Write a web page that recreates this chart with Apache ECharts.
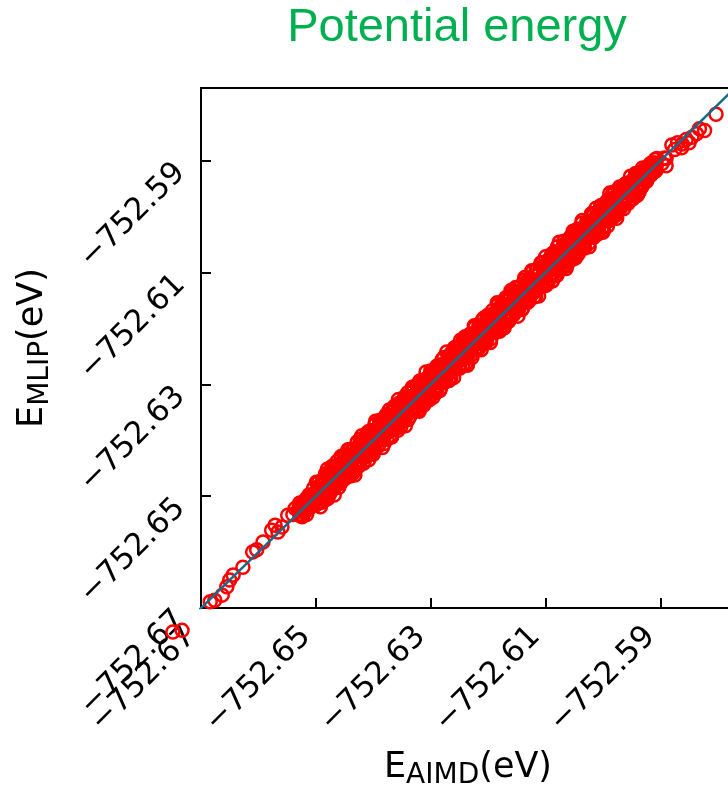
<!DOCTYPE html>
<html>
<head>
<meta charset="utf-8">
<script src="https://cdn.jsdelivr.net/npm/echarts@6/dist/echarts.min.js"></script>
<style>
  html, body { margin: 0; padding: 0; background: #fff; }
  #chart { width: 728px; height: 788px; }
</style>
</head>
<body>
<div id="chart"></div>
<script>
// tick positions shared by both axes
var tickValues = [-752.67, -752.65, -752.63, -752.61, -752.59];
var axisRange = [-752.67, -752.577];

// parity line y = x
var diagonal = [-752.68, -752.57];

// AIMD energies (x) and MLIP energies (y)
var eAimd = [
  -752.6530, -752.6528, -752.6526, -752.6524, -752.6522, -752.6520, -752.6518, -752.6516, -752.6514, -752.6512,
  -752.6510, -752.6508, -752.6506, -752.6504, -752.6502, -752.6500, -752.6498, -752.6496, -752.6494, -752.6492,
  -752.6490, -752.6488, -752.6486, -752.6484, -752.6482, -752.6480, -752.6478, -752.6476, -752.6474, -752.6472,
  -752.6470, -752.6468, -752.6466, -752.6464, -752.6462, -752.6460, -752.6458, -752.6456, -752.6454, -752.6452,
  -752.6450, -752.6448, -752.6446, -752.6444, -752.6442, -752.6440, -752.6438, -752.6436, -752.6434, -752.6432,
  -752.6430, -752.6428, -752.6426, -752.6424, -752.6422, -752.6420, -752.6418, -752.6416, -752.6414, -752.6412,
  -752.6410, -752.6408, -752.6406, -752.6404, -752.6402, -752.6400, -752.6398, -752.6396, -752.6394, -752.6392,
  -752.6390, -752.6388, -752.6386, -752.6384, -752.6382, -752.6380, -752.6378, -752.6376, -752.6374, -752.6372,
  -752.6370, -752.6368, -752.6366, -752.6364, -752.6362, -752.6360, -752.6358, -752.6356, -752.6354, -752.6352,
  -752.6350, -752.6348, -752.6346, -752.6344, -752.6342, -752.6340, -752.6338, -752.6336, -752.6334, -752.6332,
  -752.6330, -752.6328, -752.6326, -752.6324, -752.6322, -752.6320, -752.6318, -752.6316, -752.6314, -752.6312,
  -752.6310, -752.6308, -752.6306, -752.6304, -752.6302, -752.6300, -752.6298, -752.6296, -752.6294, -752.6292,
  -752.6290, -752.6288, -752.6286, -752.6284, -752.6282, -752.6280, -752.6278, -752.6276, -752.6274, -752.6272,
  -752.6270, -752.6268, -752.6266, -752.6264, -752.6262, -752.6260, -752.6258, -752.6256, -752.6254, -752.6252,
  -752.6250, -752.6248, -752.6246, -752.6244, -752.6242, -752.6240, -752.6238, -752.6236, -752.6234, -752.6232,
  -752.6230, -752.6228, -752.6226, -752.6224, -752.6222, -752.6220, -752.6218, -752.6216, -752.6214, -752.6212,
  -752.6210, -752.6208, -752.6206, -752.6204, -752.6202, -752.6200, -752.6198, -752.6196, -752.6194, -752.6192,
  -752.6190, -752.6188, -752.6186, -752.6184, -752.6182, -752.6180, -752.6178, -752.6176, -752.6174, -752.6172,
  -752.6170, -752.6168, -752.6166, -752.6164, -752.6162, -752.6160, -752.6158, -752.6156, -752.6154, -752.6152,
  -752.6150, -752.6148, -752.6146, -752.6144, -752.6142, -752.6140, -752.6138, -752.6136, -752.6134, -752.6132,
  -752.6130, -752.6128, -752.6126, -752.6124, -752.6122, -752.6120, -752.6118, -752.6116, -752.6114, -752.6112,
  -752.6110, -752.6108, -752.6106, -752.6104, -752.6102, -752.6100, -752.6098, -752.6096, -752.6094, -752.6092,
  -752.6090, -752.6088, -752.6086, -752.6084, -752.6082, -752.6080, -752.6078, -752.6076, -752.6074, -752.6072,
  -752.6070, -752.6068, -752.6066, -752.6064, -752.6062, -752.6060, -752.6058, -752.6056, -752.6054, -752.6052,
  -752.6050, -752.6048, -752.6046, -752.6044, -752.6042, -752.6040, -752.6038, -752.6036, -752.6034, -752.6032,
  -752.6030, -752.6028, -752.6026, -752.6024, -752.6022, -752.6020, -752.6018, -752.6016, -752.6014, -752.6012,
  -752.6010, -752.6008, -752.6006, -752.6004, -752.6002, -752.6000, -752.5998, -752.5996, -752.5994, -752.5992,
  -752.5990, -752.5988, -752.5986, -752.5984, -752.5982, -752.5980, -752.5978, -752.5976, -752.5974, -752.5972,
  -752.5970, -752.5968, -752.5966, -752.5964, -752.5962, -752.5960, -752.5958, -752.5956, -752.5954, -752.5952,
  -752.5950, -752.5948, -752.5946, -752.5944, -752.5942, -752.5940, -752.5938, -752.5936, -752.5934, -752.5932,
  -752.5930, -752.5928, -752.5926, -752.5924, -752.5922, -752.5920, -752.5918, -752.5916, -752.5914, -752.5912,
  -752.5910, -752.5908, -752.5906,
  // sparse tail, lower left (first two fall outside the axes)
  -752.6749, -752.6733, -752.6684, -752.6676, -752.6663, -752.6655, -752.6650, -752.6644, -752.6627, -752.6610,
  -752.6603, -752.6592, -752.6577, -752.6571, -752.6566, -752.6559, -752.6549, -752.6540, -752.6536,
  // sparse tail, upper right
  -752.5983, -752.5937, -752.5919, -752.5897, -752.5893, -752.5890, -752.5890, -752.5880, -752.5875, -752.5870,
  -752.5863, -752.5862, -752.5855, -752.5850, -752.5845, -752.5837, -752.5832, -752.5823, -752.5803
];

var eMlip = [
  -752.6527, -752.6532, -752.6520, -752.6525, -752.6514, -752.6527, -752.6518, -752.6512, -752.6523, -752.6510,
  -752.6513, -752.6501, -752.6511, -752.6499, -752.6502, -752.6516, -752.6491, -752.6476, -752.6502, -752.6489,
  -752.6502, -752.6477, -752.6490, -752.6468, -752.6501, -752.6478, -752.6470, -752.6483, -752.6460, -752.6487,
  -752.6465, -752.6470, -752.6448, -752.6474, -752.6450, -752.6465, -752.6458, -752.6473, -752.6445, -752.6465,
  -752.6431, -752.6454, -752.6443, -752.6455, -752.6427, -752.6443, -752.6431, -752.6456, -752.6424, -752.6440,
  -752.6429, -752.6415, -752.6442, -752.6418, -752.6423, -752.6403, -752.6430, -752.6412, -752.6423, -752.6401,
  -752.6414, -752.6394, -752.6424, -752.6402, -752.6394, -752.6414, -752.6382, -752.6403, -752.6389, -752.6402,
  -752.6378, -752.6390, -752.6366, -752.6399, -752.6382, -752.6371, -752.6389, -752.6373, -752.6356, -752.6378,
  -752.6367, -752.6376, -752.6346, -752.6357, -752.6378, -752.6361, -752.6348, -752.6367, -752.6339, -752.6358,
  -752.6346, -752.6366, -752.6337, -752.6343, -752.6356, -752.6323, -752.6341, -752.6323, -752.6343, -752.6326,
  -752.6343, -752.6319, -752.6343, -752.6324, -752.6327, -752.6308, -752.6328, -752.6298, -752.6316, -752.6307,
  -752.6325, -752.6294, -752.6313, -752.6296, -752.6300, -752.6319, -752.6282, -752.6300, -752.6283, -752.6304,
  -752.6279, -752.6297, -752.6282, -752.6296, -752.6265, -752.6281, -752.6272, -752.6292, -752.6261, -752.6271,
  -752.6278, -752.6258, -752.6286, -752.6257, -752.6265, -752.6245, -752.6269, -752.6253, -752.6260, -752.6233,
  -752.6256, -752.6230, -752.6243, -752.6255, -752.6233, -752.6240, -752.6253, -752.6216, -752.6236, -752.6220,
  -752.6240, -752.6223, -752.6233, -752.6208, -752.6236, -752.6212, -752.6216, -752.6234, -752.6200, -752.6216,
  -752.6216, -752.6199, -752.6219, -752.6201, -752.6219, -752.6186, -752.6199, -752.6205, -752.6176, -752.6196,
  -752.6184, -752.6203, -752.6175, -752.6194, -752.6181, -752.6164, -752.6185, -752.6196, -752.6166, -752.6175,
  -752.6158, -752.6179, -752.6162, -752.6180, -752.6143, -752.6162, -752.6166, -752.6149, -752.6168, -752.6137,
  -752.6155, -752.6146, -752.6164, -752.6134, -752.6154, -752.6135, -752.6138, -752.6119, -752.6143, -752.6119,
  -752.6149, -752.6122, -752.6129, -752.6113, -752.6137, -752.6117, -752.6125, -752.6096, -752.6124, -752.6104,
  -752.6111, -752.6121, -752.6090, -752.6110, -752.6101, -752.6117, -752.6086, -752.6100, -752.6085, -752.6103,
  -752.6086, -752.6102, -752.6068, -752.6086, -752.6090, -752.6066, -752.6094, -752.6069, -752.6079, -752.6062,
  -752.6082, -752.6066, -752.6086, -752.6049, -752.6062, -752.6069, -752.6047, -752.6059, -752.6072, -752.6046,
  -752.6044, -752.6057, -752.6033, -752.6047, -752.6025, -752.6054, -752.6037, -752.6027, -752.6052, -752.6028,
  -752.6036, -752.6013, -752.6037, -752.6014, -752.6023, -752.6036, -752.6011, -752.5996, -752.6022, -752.6009,
  -752.6022, -752.5997, -752.6010, -752.5988, -752.6021, -752.5998, -752.5990, -752.6003, -752.5980, -752.6007,
  -752.5985, -752.5990, -752.5968, -752.5994, -752.5970, -752.5985, -752.5978, -752.5993, -752.5965, -752.5985,
  -752.5951, -752.5974, -752.5963, -752.5975, -752.5947, -752.5963, -752.5951, -752.5976, -752.5944, -752.5960,
  -752.5949, -752.5935, -752.5962, -752.5938, -752.5943, -752.5923, -752.5950, -752.5932, -752.5943, -752.5921,
  -752.5932, -752.5921, -752.5935, -752.5923, -752.5918, -752.5927, -752.5910, -752.5920, -752.5911, -752.5917,
  -752.5904, -752.5909, -752.5896,
  -752.6743, -752.6740, -752.6689, -752.6686, -752.6677, -752.6662, -752.6650, -752.6641, -752.6627, -752.6600,
  -752.6596, -752.6582, -752.6561, -752.6552, -752.6564, -752.6555, -752.6534, -752.6533, -752.6522,
  -752.5961, -752.5923, -752.5914, -752.5905, -752.5895, -752.5896, -752.5909, -752.5872, -752.5880, -752.5868,
  -752.5877, -752.5870, -752.5862, -752.5868, -752.5858, -752.5852, -752.5843, -752.5846, -752.5817
];

// second, wider layer of the dense band
var eAimdB = [
  -752.6529, -752.6527, -752.6525, -752.6523, -752.6521, -752.6519, -752.6517, -752.6515, -752.6513, -752.6511,
  -752.6509, -752.6507, -752.6505, -752.6503, -752.6501, -752.6499, -752.6497, -752.6495, -752.6493, -752.6491,
  -752.6489, -752.6487, -752.6485, -752.6483, -752.6481, -752.6479, -752.6477, -752.6475, -752.6473, -752.6471,
  -752.6469, -752.6467, -752.6465, -752.6463, -752.6461, -752.6459, -752.6457, -752.6455, -752.6453, -752.6451,
  -752.6449, -752.6447, -752.6445, -752.6443, -752.6441, -752.6439, -752.6437, -752.6435, -752.6433, -752.6431,
  -752.6429, -752.6427, -752.6425, -752.6423, -752.6421, -752.6419, -752.6417, -752.6415, -752.6413, -752.6411,
  -752.6409, -752.6407, -752.6405, -752.6403, -752.6401, -752.6399, -752.6397, -752.6395, -752.6393, -752.6391,
  -752.6389, -752.6387, -752.6385, -752.6383, -752.6381, -752.6379, -752.6377, -752.6375, -752.6373, -752.6371,
  -752.6369, -752.6367, -752.6365, -752.6363, -752.6361, -752.6359, -752.6357, -752.6355, -752.6353, -752.6351,
  -752.6349, -752.6347, -752.6345, -752.6343, -752.6341, -752.6339, -752.6337, -752.6335, -752.6333, -752.6331,
  -752.6329, -752.6327, -752.6325, -752.6323, -752.6321, -752.6319, -752.6317, -752.6315, -752.6313, -752.6311,
  -752.6309, -752.6307, -752.6305, -752.6303, -752.6301, -752.6299, -752.6297, -752.6295, -752.6293, -752.6291,
  -752.6289, -752.6287, -752.6285, -752.6283, -752.6281, -752.6279, -752.6277, -752.6275, -752.6273, -752.6271,
  -752.6269, -752.6267, -752.6265, -752.6263, -752.6261, -752.6259, -752.6257, -752.6255, -752.6253, -752.6251,
  -752.6249, -752.6247, -752.6245, -752.6243, -752.6241, -752.6239, -752.6237, -752.6235, -752.6233, -752.6231,
  -752.6229, -752.6227, -752.6225, -752.6223, -752.6221, -752.6219, -752.6217, -752.6215, -752.6213, -752.6211,
  -752.6209, -752.6207, -752.6205, -752.6203, -752.6201, -752.6199, -752.6197, -752.6195, -752.6193, -752.6191,
  -752.6189, -752.6187, -752.6185, -752.6183, -752.6181, -752.6179, -752.6177, -752.6175, -752.6173, -752.6171,
  -752.6169, -752.6167, -752.6165, -752.6163, -752.6161, -752.6159, -752.6157, -752.6155, -752.6153, -752.6151,
  -752.6149, -752.6147, -752.6145, -752.6143, -752.6141, -752.6139, -752.6137, -752.6135, -752.6133, -752.6131,
  -752.6129, -752.6127, -752.6125, -752.6123, -752.6121, -752.6119, -752.6117, -752.6115, -752.6113, -752.6111,
  -752.6109, -752.6107, -752.6105, -752.6103, -752.6101, -752.6099, -752.6097, -752.6095, -752.6093, -752.6091,
  -752.6089, -752.6087, -752.6085, -752.6083, -752.6081, -752.6079, -752.6077, -752.6075, -752.6073, -752.6071,
  -752.6069, -752.6067, -752.6065, -752.6063, -752.6061, -752.6059, -752.6057, -752.6055, -752.6053, -752.6051,
  -752.6049, -752.6047, -752.6045, -752.6043, -752.6041, -752.6039, -752.6037, -752.6035, -752.6033, -752.6031,
  -752.6029, -752.6027, -752.6025, -752.6023, -752.6021, -752.6019, -752.6017, -752.6015, -752.6013, -752.6011,
  -752.6009, -752.6007, -752.6005, -752.6003, -752.6001, -752.5999, -752.5997, -752.5995, -752.5993, -752.5991,
  -752.5989, -752.5987, -752.5985, -752.5983, -752.5981, -752.5979, -752.5977, -752.5975, -752.5973, -752.5971,
  -752.5969, -752.5967, -752.5965, -752.5963, -752.5961, -752.5959, -752.5957, -752.5955, -752.5953, -752.5951,
  -752.5949, -752.5947, -752.5945, -752.5943, -752.5941, -752.5939, -752.5937, -752.5935, -752.5933, -752.5931,
  -752.5929, -752.5927, -752.5925, -752.5923, -752.5921, -752.5919, -752.5917, -752.5915, -752.5913, -752.5911,
  -752.5909, -752.5907
];

var eMlipB = [
  -752.6518, -752.6535, -752.6521, -752.6535, -752.6514, -752.6521, -752.6505, -752.6525, -752.6508, -752.6517,
  -752.6508, -752.6498, -752.6516, -752.6500, -752.6506, -752.6475, -752.6512, -752.6495, -752.6481, -752.6510,
  -752.6511, -752.6471, -752.6494, -752.6460, -752.6484, -752.6504, -752.6458, -752.6470, -752.6485, -752.6450,
  -752.6487, -752.6457, -752.6471, -752.6438, -752.6475, -752.6457, -752.6477, -752.6440, -752.6461, -752.6427,
  -752.6468, -752.6435, -752.6445, -752.6458, -752.6417, -752.6449, -752.6430, -752.6458, -752.6415, -752.6428,
  -752.6442, -752.6416, -752.6446, -752.6398, -752.6426, -752.6405, -752.6441, -752.6406, -752.6430, -752.6389,
  -752.6385, -752.6415, -752.6390, -752.6423, -752.6399, -752.6413, -752.6372, -752.6401, -752.6383, -752.6409,
  -752.6368, -752.6399, -752.6380, -752.6364, -752.6406, -752.6382, -752.6354, -752.6384, -752.6357, -752.6393,
  -752.6391, -752.6350, -752.6374, -752.6339, -752.6375, -752.6354, -752.6382, -752.6334, -752.6364, -752.6338,
  -752.6352, -752.6365, -752.6322, -752.6350, -752.6331, -752.6363, -752.6322, -752.6335, -752.6345, -752.6312,
  -752.6307, -752.6343, -752.6316, -752.6346, -752.6318, -752.6294, -752.6336, -752.6320, -752.6301, -752.6332,
  -752.6291, -752.6317, -752.6299, -752.6328, -752.6287, -752.6301, -752.6277, -752.6310, -752.6285, -752.6315,
  -752.6267, -752.6304, -752.6276, -752.6307, -752.6267, -752.6284, -752.6252, -752.6296, -752.6262, -752.6284,
  -752.6266, -752.6249, -752.6288, -752.6256, -752.6271, -752.6235, -752.6272, -752.6255, -752.6241, -752.6270,
  -752.6271, -752.6231, -752.6254, -752.6220, -752.6244, -752.6264, -752.6218, -752.6230, -752.6245, -752.6210,
  -752.6247, -752.6217, -752.6231, -752.6198, -752.6235, -752.6217, -752.6237, -752.6200, -752.6221, -752.6187,
  -752.6228, -752.6195, -752.6205, -752.6218, -752.6177, -752.6209, -752.6190, -752.6218, -752.6175, -752.6188,
  -752.6202, -752.6176, -752.6206, -752.6158, -752.6186, -752.6165, -752.6201, -752.6166, -752.6190, -752.6149,
  -752.6145, -752.6175, -752.6150, -752.6183, -752.6159, -752.6173, -752.6132, -752.6161, -752.6143, -752.6169,
  -752.6128, -752.6159, -752.6140, -752.6124, -752.6166, -752.6142, -752.6114, -752.6144, -752.6117, -752.6153,
  -752.6151, -752.6110, -752.6134, -752.6099, -752.6135, -752.6114, -752.6142, -752.6094, -752.6124, -752.6098,
  -752.6112, -752.6125, -752.6082, -752.6110, -752.6091, -752.6123, -752.6082, -752.6095, -752.6105, -752.6072,
  -752.6067, -752.6103, -752.6076, -752.6106, -752.6078, -752.6054, -752.6096, -752.6080, -752.6061, -752.6092,
  -752.6051, -752.6077, -752.6059, -752.6088, -752.6047, -752.6061, -752.6037, -752.6070, -752.6045, -752.6075,
  -752.6027, -752.6064, -752.6036, -752.6067, -752.6027, -752.6044, -752.6012, -752.6056, -752.6022, -752.6044,
  -752.6026, -752.6009, -752.6048, -752.6016, -752.6031, -752.5995, -752.6032, -752.6015, -752.6001, -752.6030,
  -752.6031, -752.5991, -752.6014, -752.5980, -752.6004, -752.6024, -752.5978, -752.5990, -752.6005, -752.5970,
  -752.6007, -752.5977, -752.5991, -752.5958, -752.5995, -752.5977, -752.5997, -752.5960, -752.5981, -752.5947,
  -752.5984, -752.5957, -752.5965, -752.5975, -752.5942, -752.5967, -752.5951, -752.5973, -752.5939, -752.5949,
  -752.5959, -752.5938, -752.5962, -752.5923, -752.5945, -752.5928, -752.5956, -752.5928, -752.5947, -752.5913,
  -752.5917, -752.5931, -752.5918, -752.5933, -752.5920, -752.5926, -752.5905, -752.5918, -752.5908, -752.5920,
  -752.5898, -752.5908
];

// outer edges of the dense band
var eAimdC = [
  -752.6528, -752.6524, -752.6520, -752.6516, -752.6512, -752.6508, -752.6504, -752.6500, -752.6496, -752.6492,
  -752.6488, -752.6484, -752.6480, -752.6476, -752.6472, -752.6468, -752.6464, -752.6460, -752.6456, -752.6452,
  -752.6448, -752.6444, -752.6440, -752.6436, -752.6432, -752.6428, -752.6424, -752.6420, -752.6416, -752.6412,
  -752.6408, -752.6404, -752.6400, -752.6396, -752.6392, -752.6388, -752.6384, -752.6380, -752.6376, -752.6372,
  -752.6368, -752.6364, -752.6360, -752.6356, -752.6352, -752.6348, -752.6344, -752.6340, -752.6336, -752.6332,
  -752.6328, -752.6324, -752.6320, -752.6316, -752.6312, -752.6308, -752.6304, -752.6300, -752.6296, -752.6292,
  -752.6288, -752.6284, -752.6280, -752.6276, -752.6272, -752.6268, -752.6264, -752.6260, -752.6256, -752.6252,
  -752.6248, -752.6244, -752.6240, -752.6236, -752.6232, -752.6228, -752.6224, -752.6220, -752.6216, -752.6212,
  -752.6208, -752.6204, -752.6200, -752.6196, -752.6192, -752.6188, -752.6184, -752.6180, -752.6176, -752.6172,
  -752.6168, -752.6164, -752.6160, -752.6156, -752.6152, -752.6148, -752.6144, -752.6140, -752.6136, -752.6132,
  -752.6128, -752.6124, -752.6120, -752.6116, -752.6112, -752.6108, -752.6104, -752.6100, -752.6096, -752.6092,
  -752.6088, -752.6084, -752.6080, -752.6076, -752.6072, -752.6068, -752.6064, -752.6060, -752.6056, -752.6052,
  -752.6048, -752.6044, -752.6040, -752.6036, -752.6032, -752.6028, -752.6024, -752.6020, -752.6016, -752.6012,
  -752.6008, -752.6004, -752.6000, -752.5996, -752.5992, -752.5988, -752.5984, -752.5980, -752.5976, -752.5972,
  -752.5968, -752.5964, -752.5960, -752.5956, -752.5952, -752.5948, -752.5944, -752.5940, -752.5936, -752.5932,
  -752.5928, -752.5924, -752.5920, -752.5916, -752.5912, -752.5908
];

var eMlipC = [
  -752.6512, -752.6537, -752.6509, -752.6533, -752.6498, -752.6519, -752.6486, -752.6515, -752.6475, -752.6519,
  -752.6471, -752.6507, -752.6452, -752.6496, -752.6447, -752.6498, -752.6445, -752.6484, -752.6429, -752.6470,
  -752.6466, -752.6417, -752.6464, -752.6417, -752.6462, -752.6403, -752.6444, -752.6392, -752.6439, -752.6395,
  -752.6435, -752.6383, -752.6425, -752.6366, -752.6411, -752.6364, -752.6413, -752.6362, -752.6398, -752.6346,
  -752.6394, -752.6342, -752.6378, -752.6327, -752.6376, -752.6329, -752.6374, -752.6315, -752.6357, -752.6305,
  -752.6345, -752.6301, -752.6348, -752.6296, -752.6337, -752.6278, -752.6323, -752.6276, -752.6323, -752.6274,
  -752.6270, -752.6311, -752.6256, -752.6295, -752.6242, -752.6293, -752.6244, -752.6288, -752.6233, -752.6269,
  -752.6221, -752.6265, -752.6215, -752.6266, -752.6213, -752.6252, -752.6195, -752.6238, -752.6194, -752.6238,
  -752.6182, -752.6226, -752.6182, -752.6225, -752.6168, -752.6207, -752.6154, -752.6205, -752.6155, -752.6199,
  -752.6151, -752.6187, -752.6132, -752.6176, -752.6127, -752.6178, -752.6125, -752.6164, -752.6109, -752.6150,
  -752.6146, -752.6097, -752.6144, -752.6097, -752.6142, -752.6083, -752.6124, -752.6072, -752.6119, -752.6075,
  -752.6115, -752.6063, -752.6105, -752.6046, -752.6091, -752.6044, -752.6093, -752.6042, -752.6078, -752.6026,
  -752.6074, -752.6022, -752.6058, -752.6007, -752.6056, -752.6009, -752.6054, -752.5995, -752.6037, -752.5985,
  -752.6025, -752.5981, -752.6028, -752.5976, -752.6017, -752.5958, -752.6003, -752.5956, -752.6003, -752.5954,
  -752.5953, -752.5986, -752.5941, -752.5971, -752.5928, -752.5968, -752.5928, -752.5962, -752.5924, -752.5946,
  -752.5918, -752.5937, -752.5909, -752.5925, -752.5904, -752.5918
];

var chart = echarts.init(document.getElementById('chart'), null, { renderer: 'canvas' });

var labelFont = 'DejaVu Sans';
function fmt(v) {
  return '\u2212' + Math.abs(v).toFixed(2);
}
var nameRich = {
  m: { fontSize: 35, fontFamily: labelFont, color: '#000' },
  s: { fontSize: 28, fontFamily: labelFont, color: '#000', padding: [16, 0, 0, 0] }
};

function pairs(xs, ys) {
  return xs.map(function (a, i) { return [a, ys[i]]; });
}
var points = pairs(eAimd, eMlip).concat(pairs(eAimdB, eMlipB), pairs(eAimdC, eMlipC));

var option = {
  animation: false,
  backgroundColor: '#fff',
  title: {
    text: 'Potential energy',
    left: 452,
    top: 0,
    textAlign: 'center',
    textStyle: {
      color: '#00b050',
      fontSize: 47,
      fontWeight: 'normal',
      fontFamily: 'Liberation Sans'
    }
  },
  grid: {
    left: 201,
    top: 88,
    right: -7,
    bottom: 180,
    show: true,
    borderColor: '#000',
    borderWidth: 2,
    containLabel: false,
    outerBoundsMode: 'none'
  },
  xAxis: {
    type: 'value',
    min: axisRange[0],
    max: axisRange[1],
    name: '{m|E}{s|AIMD}{m|(eV)}',
    nameLocation: 'middle',
    nameGap: 138,
    nameTextStyle: { rich: nameRich },
    axisLine: { show: true, onZero: false, lineStyle: { color: '#000', width: 2 } },
    axisTick: { show: true, inside: true, length: 10, lineStyle: { color: '#000', width: 2 }, customValues: tickValues },
    axisLabel: {
      customValues: tickValues,
      rotate: 45,
      margin: 14,
      padding: [0, 14, 0, 0],
      fontSize: 31,
      fontFamily: labelFont,
      color: '#000',
      formatter: fmt
    },
    splitLine: { show: false }
  },
  yAxis: {
    type: 'value',
    min: axisRange[0],
    max: axisRange[1],
    name: '{m|E}{s|MLIP}{m|(eV)}',
    nameLocation: 'middle',
    nameGap: 146,
    nameTextStyle: { rich: nameRich },
    axisLine: { show: true, onZero: false, lineStyle: { color: '#000', width: 2 } },
    axisTick: { show: true, inside: true, length: 10, lineStyle: { color: '#000', width: 2 }, customValues: tickValues },
    axisLabel: {
      customValues: tickValues,
      rotate: 45,
      margin: 28,
      verticalAlign: 'top',
      lineHeight: 21,
      fontSize: 31,
      fontFamily: labelFont,
      color: '#000',
      formatter: fmt
    },
    splitLine: { show: false }
  },
  series: [
    {
      type: 'scatter',
      data: points,
      clip: false,
      symbol: 'circle',
      symbolSize: 13,
      itemStyle: {
        color: 'rgba(0,0,0,0)',
        borderColor: '#ff0000',
        borderWidth: 2.5,
        opacity: 1
      },
      z: 2
    },
    {
      type: 'line',
      data: [[diagonal[0], diagonal[0]], [diagonal[1], diagonal[1]]],
      showSymbol: false,
      clip: true,
      lineStyle: { color: '#176a8a', width: 2.5 },
      z: 3
    }
  ]
};

chart.setOption(option);
</script>
</body>
</html>
